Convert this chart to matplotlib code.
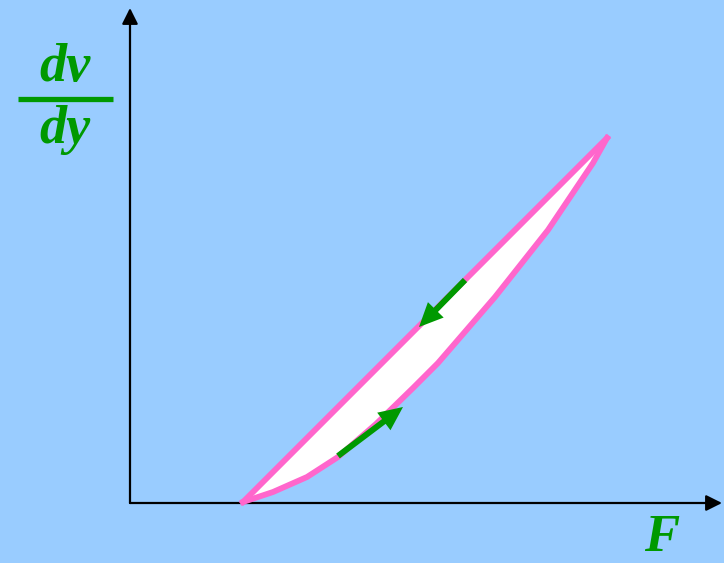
import matplotlib

matplotlib.use("Agg")

import matplotlib.pyplot as plt
import numpy as np

# hysteresis loop (F, dv/dy), arbitrary units measured from the axis origin
upper_F = [113, 477]
upper_rate = [1, 365]
lower_F = [113, 143, 177, 208, 246, 283, 308, 365, 418, 463, 477]
lower_rate = [1, 11, 26, 46, 79, 115, 140, 206, 273, 340, 365]

# direction arrows: (start F, start rate, end F, end rate)
arrow_down = (335, 223, 289, 176)
arrow_up = (208, 47, 273, 96)

BG = "#99CCFF"
PINK = "#FF66CC"
GREEN = "#009900"

fig = plt.figure(figsize=(7.24, 5.63), dpi=100, facecolor=BG)
ax = fig.add_axes([0, 0, 1, 1])
ax.set_xlim(-130, 594)
ax.set_ylim(-60, 503)
ax.axis("off")

# axes with arrow heads
ax.annotate("", xy=(592, 0), xytext=(0, 0),
            arrowprops=dict(arrowstyle="-|>", color="black", lw=1.6, mutation_scale=24, shrinkA=0, shrinkB=0))
ax.annotate("", xy=(0, 495), xytext=(0, 0),
            arrowprops=dict(arrowstyle="-|>", color="black", lw=1.6, mutation_scale=24, shrinkA=0, shrinkB=0))

# loop
loop_F = np.concatenate([upper_F, lower_F[::-1]])
loop_rate = np.concatenate([upper_rate, lower_rate[::-1]])
ax.fill(loop_F, loop_rate, color="white", zorder=2)
ax.plot(upper_F, upper_rate, color=PINK, lw=4.2, solid_joinstyle="round", zorder=3)
ax.plot(lower_F, lower_rate, color=PINK, lw=4.2, solid_joinstyle="round", zorder=3)

for x0, y0, x1, y1 in (arrow_down, arrow_up):
    ax.arrow(x0, y0, x1 - x0, y1 - y0, width=6, head_width=22, head_length=24,
             length_includes_head=True, color=GREEN, lw=0, zorder=4)

font = dict(family="Liberation Serif", weight="bold", style="italic", color=GREEN)
ax.text(-65, 435, "dv", fontsize=39, ha="center", va="center", **font)
ax.plot([-112, -17], [404, 404], color=GREEN, lw=3.8, solid_capstyle="butt")
ax.text(-65, 373, "dy", fontsize=39, ha="center", va="center", **font)
ax.text(532, -35, "F", fontsize=38, ha="center", va="center", **font)

fig.savefig("out.png", dpi=100, facecolor=BG)
